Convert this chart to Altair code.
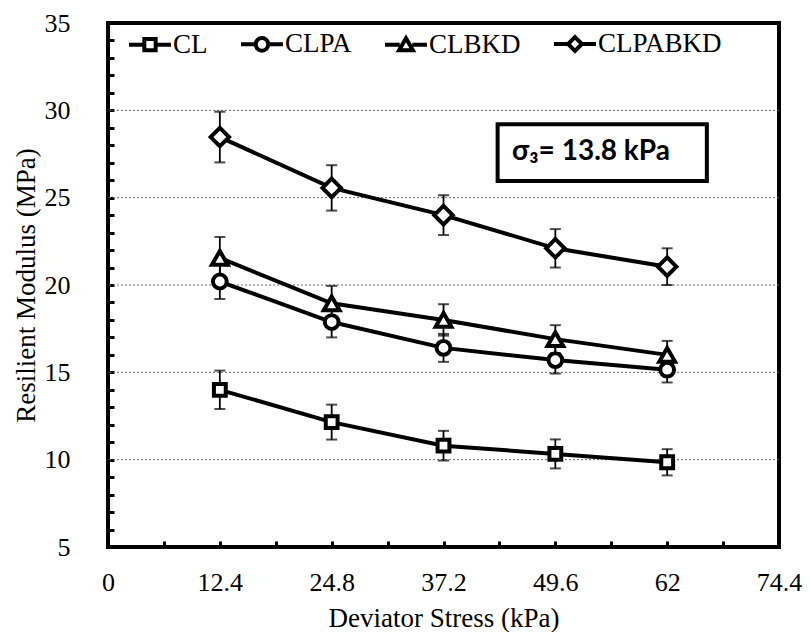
import altair as alt
import pandas as pd

# ---------------- data ----------------
stress = [12.4, 24.8, 37.2, 49.6, 62]
series = ["CL", "CLPA", "CLBKD", "CLPABKD"]
cl = [14.0, 12.15, 10.8, 10.33, 9.85]
cl_err = [1.1, 1.0, 0.85, 0.83, 0.75]
clpa = [20.2, 17.88, 16.4, 15.7, 15.15]
clpa_err = [1.0, 0.88, 0.8, 0.77, 0.73]
clbkd = [21.55, 18.95, 18.0, 16.9, 16.0]
clbkd_err = [1.2, 1.0, 0.9, 0.8, 0.8]
clpabkd = [28.47, 25.56, 24.0, 22.1, 21.05]
clpabkd_err = [1.45, 1.3, 1.14, 1.1, 1.05]

x_ticks = [0, 6.2, 12.4, 18.6, 24.8, 31, 37.2, 43.4, 49.6, 55.8, 62, 68.2, 74.4]
x_labels = [0, 12.4, 24.8, 37.2, 49.6, 62, 74.4]
y_ticks = list(range(5, 36))
grid_vals = [10, 15, 20, 25, 30]
note_text = ["σ₃= 13.8 kPa"]
note_x = [44.8]
note_y = [27.6]
box_x = [43.2]
box_x2 = [66.4]
box_y = [29.2]
box_y2 = [25.95]

# ---------------- tables ----------------
vals = {"CL": (cl, cl_err), "CLPA": (clpa, clpa_err),
        "CLBKD": (clbkd, clbkd_err), "CLPABKD": (clpabkd, clpabkd_err)}
rows = []
for s in series:
    m, e = vals[s]
    for xv, mv, ev in zip(stress, m, e):
        rows.append({"series": s, "stress": xv, "mr": mv, "lo": mv - ev, "hi": mv + ev})
df = pd.DataFrame(rows)
grid_df = pd.DataFrame({"g": grid_vals})
box_df = pd.DataFrame({"x": box_x, "x2": box_x2, "y": box_y, "y2": box_y2})
note_df = pd.DataFrame({"x": note_x, "y": note_y, "t": note_text})

serif = "Liberation Serif"

xscale = alt.Scale(domain=[0, 74.4], nice=False, zero=False)
yscale = alt.Scale(domain=[5, 35], nice=False, zero=False)
label_list = ",".join(str(v) for v in x_labels)
xaxis = alt.Axis(values=x_ticks,
                 labelExpr=f"indexof([{label_list}], datum.value) >= 0 ? '' + datum.value : ''",
                 title="Deviator Stress (kPa)", offset=-6, labelPadding=22, titlePadding=10)
yaxis = alt.Axis(values=y_ticks, format="d",
                 labelExpr="datum.value % 5 === 0 ? datum.label : ''",
                 title="Resilient Modulus (MPa)", offset=-6, labelPadding=38, titlePadding=4)


def X(f):
    return alt.X(f, type="quantitative", scale=xscale, axis=xaxis)


def Y(f):
    return alt.Y(f, type="quantitative", scale=yscale, axis=yaxis)


grid = alt.Chart(grid_df).mark_rule(color="#666", strokeDash=[2, 2], strokeWidth=1).encode(
    y=Y("g"))

err = alt.Chart(df).mark_rule(color="black", strokeWidth=1.8).encode(
    x=X("stress"), y=Y("lo"), y2="hi")
cap_lo = alt.Chart(df).mark_tick(orient="horizontal", size=11, thickness=2, color="black").encode(
    x=X("stress"), y=Y("lo"))
cap_hi = alt.Chart(df).mark_tick(orient="horizontal", size=11, thickness=2, color="black").encode(
    x=X("stress"), y=Y("hi"))

lines = alt.Chart(df).mark_line(color="black", strokeWidth=4).encode(
    x=X("stress"), y=Y("mr"), detail="series:N")

# marker style per series (style only, not data)
marker_style = {"CL": ("square", 140), "CLPA": ("circle", 190),
                "CLBKD": ("triangle-up", 250), "CLPABKD": ("diamond", 340)}
point_layers = []
for s in series:
    shp, sz = marker_style[s]
    point_layers.append(
        alt.Chart(df).transform_filter(alt.datum.series == s).mark_point(
            shape=shp, size=sz, fill="white", stroke="black", strokeWidth=4,
            opacity=1, fillOpacity=1).encode(x=X("stress"), y=Y("mr")))

legend_paths = [
    "M-1,0L-0.27,0M0.27,0L1,0M-0.27,-0.27L0.27,-0.27L0.27,0.27L-0.27,0.27Z",
    "M-1,0L-0.3,0M0.3,0L1,0M-0.3,0A0.3,0.3,0,1,1,0.3,0A0.3,0.3,0,1,1,-0.3,0Z",
    "M-1,0L-0.3,0M0.3,0L1,0M-0.33,0.27L0,-0.3L0.33,0.27Z",
    "M-1,0L-0.33,0M0.33,0L1,0M0,-0.33L0.33,0L0,0.33L-0.33,0Z",
]
leg = alt.Legend(title=None, orient="none", legendX=19, legendY=-2,
                 direction="horizontal", columnPadding=25,
                 labelFont=serif, labelFontSize=27,
                 labelColor="black", labelOffset=0,
                 symbolSize=1764, symbolStrokeWidth=4,
                 symbolOpacity=1, symbolFillColor="white",
                 symbolStrokeColor="black", padding=0)
# legend-only layer: no rows drawn, the explicit domains still feed the legend
legend_layer = alt.Chart(df).transform_filter("false").mark_point(
    fill="white", strokeWidth=4, filled=False, opacity=1).encode(
    x=X("stress"), y=Y("mr"),
    shape=alt.Shape("series:N", scale=alt.Scale(domain=series, range=legend_paths), legend=leg),
    stroke=alt.Stroke("series:N", scale=alt.Scale(domain=series,
                      range=["black", "black", "black", "black"]), legend=leg))

box = alt.Chart(box_df).mark_rect(fill="white", stroke="black", strokeWidth=4).encode(
    x=X("x"), x2="x2", y=Y("y"), y2="y2")
note = alt.Chart(note_df).mark_text(align="left", baseline="middle", font="Lato",
                                    fontWeight="bold", fontSize=28, color="black").encode(
    x=X("x"), y=Y("y"), text="t:N")

chart = alt.layer(grid, err, cap_lo, cap_hi, lines, *point_layers, legend_layer, box, note).properties(
    width=671, height=524,
    autosize=alt.AutoSizeParams(type="none"),
    padding={"left": 100, "top": 15, "right": 23, "bottom": 85},
    background="white",
).configure_view(stroke="black", strokeWidth=4).configure_axis(
    grid=False, domain=False, tickSize=6, tickWidth=3, tickColor="black",
    labelFont=serif, labelFontSize=26, labelColor="black",
    labelFlush=False, labelOverlap=False,
    titleFont=serif, titleFontSize=27, titleFontWeight="normal", titleColor="black",
)

chart.save("out.html", embed_options={"renderer": "svg", "actions": False})
